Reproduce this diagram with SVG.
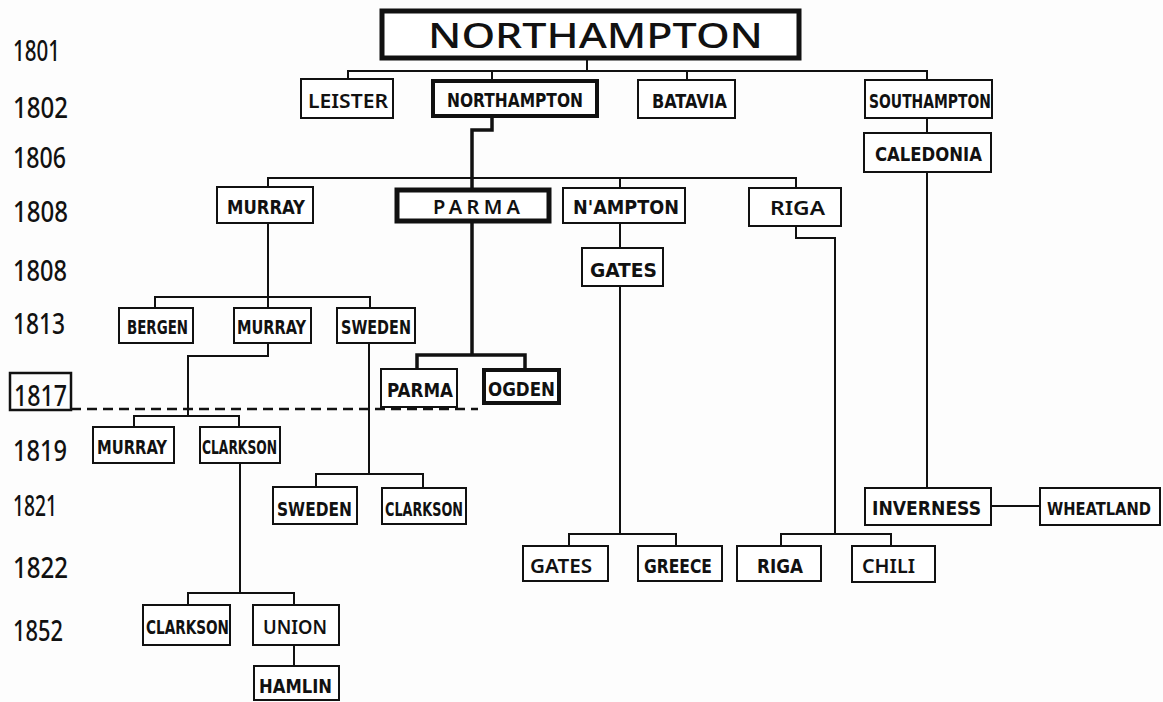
<svg xmlns="http://www.w3.org/2000/svg" width="1163" height="702" viewBox="0 0 1163 702">
<style>
.bx{fill:#fff;stroke:#111;stroke-width:2}
.bx.t4{stroke-width:4}
.bx.t5{stroke-width:5}
.ln{fill:none;stroke:#111;stroke-width:2}
.tl{fill:none;stroke:#111;stroke-width:3.5}
.lb{font-family:"DejaVu Sans Condensed","Liberation Sans",sans-serif;font-weight:bold;font-size:20px;fill:#111}
.lb.nw{font-family:"Noto Sans","Open Sans",sans-serif;font-weight:600}
.lb.sm{font-size:17px}
.yr{font-family:"Noto Sans","DejaVu Sans",sans-serif;font-weight:500;font-size:28px;fill:#111}
</style>
<rect width="1163" height="702" fill="#fdfdfd"/>
<g id="years">
<text class="yr" x="13" y="61" textLength="47" lengthAdjust="spacingAndGlyphs">1801</text>
<text class="yr" x="13" y="118" textLength="55" lengthAdjust="spacingAndGlyphs">1802</text>
<text class="yr" x="13" y="168" textLength="53" lengthAdjust="spacingAndGlyphs">1806</text>
<text class="yr" x="13" y="222" textLength="55" lengthAdjust="spacingAndGlyphs">1808</text>
<text class="yr" x="13" y="281" textLength="54" lengthAdjust="spacingAndGlyphs">1808</text>
<text class="yr" x="13" y="334" textLength="52" lengthAdjust="spacingAndGlyphs">1813</text>
<rect x="10" y="373" width="61" height="37" fill="none" stroke="#111" stroke-width="2.5"/>
<text class="yr" x="14" y="406" textLength="53" lengthAdjust="spacingAndGlyphs">1817</text>
<text class="yr" x="13" y="461" textLength="54" lengthAdjust="spacingAndGlyphs">1819</text>
<text class="yr" x="13" y="516" textLength="44" lengthAdjust="spacingAndGlyphs">1821</text>
<text class="yr" x="13" y="578" textLength="55" lengthAdjust="spacingAndGlyphs">1822</text>
<text class="yr" x="13" y="641" textLength="50" lengthAdjust="spacingAndGlyphs">1852</text>
</g>
<g id="connectors">
<path class="ln" d="M587,59V71M348,79V71H927V80M492,71V80M687,71V80"/>
<path class="ln" d="M927,118V133M927,172V488"/>
<path class="tl" d="M492,117V130H472V189M472,222V355M417,369V355H525V369"/>
<path class="ln" d="M268,187V178H796V188M620,178V188"/>
<path class="ln" d="M620,223V248M620,286V534M569,546V534H676V546"/>
<path class="ln" d="M796,226V238H835V534M781,546V534H891V546"/>
<path class="ln" d="M268,223V308M155,308V297H370V308"/>
<path class="ln" d="M268,343V356H188V416M134,427V416H239V427"/>
<path class="ln" d="M240,463V593M188,605V593H294V605M294,645V666"/>
<path class="ln" d="M369,343V474M316,487V474H423V488"/>
<path class="ln" d="M991,506H1040"/>
<path d="M71,409H478" fill="none" stroke="#111" stroke-width="2.5" stroke-dasharray="10 6"/>
</g>
<g id="n-northampton-main"><rect class="bx t5" x="382" y="11" width="417" height="47"/><text x="428" y="48" font-family="Noto Sans,DejaVu Sans,sans-serif" font-weight="500" font-size="35" fill="#111" textLength="335" lengthAdjust="spacingAndGlyphs">NORTHAMPTON</text></g>
<g id="n-leister"><rect class="bx" x="301" y="79" width="92" height="39"/><text class="lb nw" x="308" y="108" textLength="80" lengthAdjust="spacingAndGlyphs">LEISTER</text></g>
<g id="n-northampton-1802"><rect class="bx t4" x="433" y="81" width="164" height="35"/><text class="lb" x="447" y="107" textLength="136" lengthAdjust="spacingAndGlyphs">NORTHAMPTON</text></g>
<g id="n-batavia"><rect class="bx" x="638" y="80" width="97" height="38"/><text class="lb" x="652" y="108" textLength="75" lengthAdjust="spacingAndGlyphs">BATAVIA</text></g>
<g id="n-southampton"><rect class="bx" x="865" y="80" width="127" height="38"/><text class="lb" x="869" y="108" textLength="122" lengthAdjust="spacingAndGlyphs">SOUTHAMPTON</text></g>
<g id="n-caledonia"><rect class="bx" x="864" y="133" width="127" height="39"/><text class="lb" x="875" y="161" textLength="107" lengthAdjust="spacingAndGlyphs">CALEDONIA</text></g>
<g id="n-murray-1808"><rect class="bx" x="217" y="187" width="96" height="36"/><text class="lb" x="227" y="214" textLength="78" lengthAdjust="spacingAndGlyphs">MURRAY</text></g>
<g id="n-parma-1808"><rect class="bx t5" x="397" y="190" width="152" height="31"/><text class="lb nw" x="433" y="214" textLength="87" lengthAdjust="spacing">PARMA</text></g>
<g id="n-nampton"><rect class="bx" x="563" y="188" width="122" height="35"/><text class="lb" x="573" y="214" textLength="106" lengthAdjust="spacingAndGlyphs">N'AMPTON</text></g>
<g id="n-riga-1808"><rect class="bx" x="749" y="188" width="92" height="38"/><text class="lb nw" x="770" y="215" textLength="55" lengthAdjust="spacingAndGlyphs">RIGA</text></g>
<g id="n-gates-1808"><rect class="bx" x="582" y="248" width="81" height="38"/><text class="lb" x="590" y="277" textLength="67" lengthAdjust="spacingAndGlyphs">GATES</text></g>
<g id="n-bergen"><rect class="bx" x="119" y="308" width="74" height="35"/><text class="lb" x="127" y="334" textLength="61" lengthAdjust="spacingAndGlyphs">BERGEN</text></g>
<g id="n-murray-1813"><rect class="bx" x="234" y="308" width="77" height="35"/><text class="lb" x="237" y="334" textLength="69" lengthAdjust="spacingAndGlyphs">MURRAY</text></g>
<g id="n-sweden-1813"><rect class="bx" x="337" y="308" width="78" height="35"/><text class="lb" x="341" y="334" textLength="70" lengthAdjust="spacingAndGlyphs">SWEDEN</text></g>
<g id="n-parma-1817"><rect class="bx" x="381" y="369" width="76" height="38"/><text class="lb" x="387" y="397" textLength="66" lengthAdjust="spacingAndGlyphs">PARMA</text></g>
<g id="n-ogden"><rect class="bx t4" x="484" y="370" width="75" height="33"/><text class="lb" x="488" y="396" textLength="67" lengthAdjust="spacingAndGlyphs">OGDEN</text></g>
<g id="n-murray-1819"><rect class="bx" x="93" y="427" width="81" height="36"/><text class="lb" x="97" y="454" textLength="70" lengthAdjust="spacingAndGlyphs">MURRAY</text></g>
<g id="n-clarkson-1819"><rect class="bx" x="200" y="427" width="80" height="36"/><text class="lb" x="202" y="454" textLength="75" lengthAdjust="spacingAndGlyphs">CLARKSON</text></g>
<g id="n-sweden-1821"><rect class="bx" x="273" y="487" width="84" height="37"/><text class="lb" x="277" y="516" textLength="75" lengthAdjust="spacingAndGlyphs">SWEDEN</text></g>
<g id="n-clarkson-1821"><rect class="bx" x="382" y="488" width="84" height="36"/><text class="lb" x="385" y="516" textLength="78" lengthAdjust="spacingAndGlyphs">CLARKSON</text></g>
<g id="n-gates-1822"><rect class="bx" x="523" y="546" width="85" height="35"/><text class="lb nw" x="530" y="573" textLength="62" lengthAdjust="spacingAndGlyphs">GATES</text></g>
<g id="n-greece"><rect class="bx" x="638" y="546" width="84" height="35"/><text class="lb" x="644" y="573" textLength="68" lengthAdjust="spacingAndGlyphs">GREECE</text></g>
<g id="n-riga-1822"><rect class="bx" x="737" y="546" width="84" height="35"/><text class="lb" x="757" y="573" textLength="46" lengthAdjust="spacingAndGlyphs">RIGA</text></g>
<g id="n-chili"><rect class="bx" x="852" y="546" width="83" height="36"/><text class="lb nw" x="862" y="573" textLength="53" lengthAdjust="spacingAndGlyphs">CHILI</text></g>
<g id="n-inverness"><rect class="bx" x="865" y="488" width="126" height="37"/><text class="lb" x="872" y="515" textLength="109" lengthAdjust="spacingAndGlyphs">INVERNESS</text></g>
<g id="n-wheatland"><rect class="bx" x="1040" y="488" width="120" height="37"/><text class="lb sm" x="1047" y="515" textLength="104" lengthAdjust="spacingAndGlyphs">WHEATLAND</text></g>
<g id="n-clarkson-1852"><rect class="bx" x="143" y="605" width="87" height="40"/><text class="lb" x="146" y="634" textLength="83" lengthAdjust="spacingAndGlyphs">CLARKSON</text></g>
<g id="n-union"><rect class="bx" x="253" y="605" width="86" height="40"/><text class="lb nw" x="263" y="634" textLength="64" lengthAdjust="spacingAndGlyphs">UNION</text></g>
<g id="n-hamlin"><rect class="bx" x="254" y="666" width="85" height="34"/><text class="lb" x="259" y="693" textLength="73" lengthAdjust="spacingAndGlyphs">HAMLIN</text></g>
</svg>
